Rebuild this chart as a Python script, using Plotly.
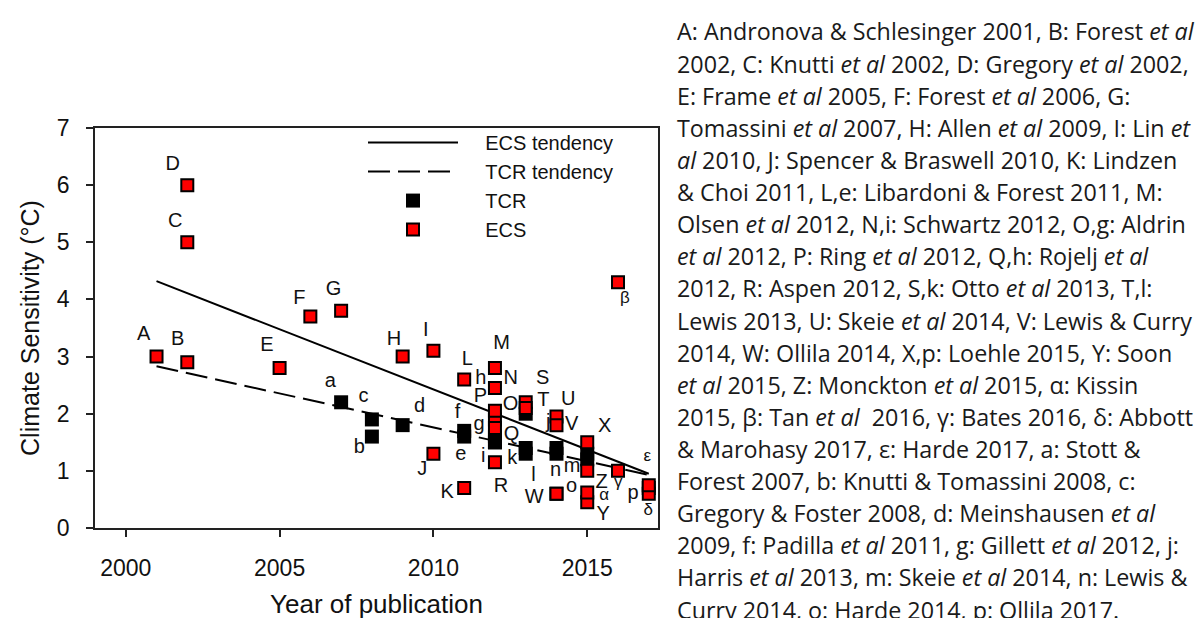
import plotly.graph_objects as go

# ---------------- data ----------------
ecs_labels = ["A", "B", "C", "D", "E", "F", "G", "H", "I", "J", "K", "L", "M", "N", "O", "P", "Q", "R",
              "S", "T", "U", "V", "W", "X", "Y", "Z", "α", "β", "γ", "δ", "ε"]
ecs_years = [2001, 2002, 2002, 2002, 2005, 2006, 2007, 2009, 2010, 2010, 2011, 2011, 2012, 2012, 2012, 2012, 2012, 2012,
             2013, 2013, 2014, 2014, 2014, 2015, 2015, 2015, 2015, 2016, 2016, 2017, 2017]
ecs_values = [3.0, 2.9, 5.0, 6.0, 2.8, 3.7, 3.8, 3.0, 3.1, 1.3, 0.7, 2.6, 2.8, 2.45, 1.9, 2.05, 1.75, 1.15,
              2.2, 2.1, 1.95, 1.8, 0.6, 1.5, 0.45, 1.0, 0.62, 4.3, 1.0, 0.6, 0.75]

tcr_labels = ["a", "b", "c", "d", "e", "f", "g", "h", "i", "j", "k", "l", "m", "n", "o", "p", "p2", "p3"]
tcr_years = [2007, 2008, 2008, 2009, 2011, 2011, 2012, 2012, 2012, 2013, 2013, 2013, 2014, 2014, 2014, 2015, 2015, 2017]
tcr_values = [2.2, 1.6, 1.9, 1.8, 1.6, 1.7, 1.6, 1.5, 1.5, 2.0, 1.4, 1.3, 1.4, 1.3, 0.6, 1.3, 1.2, 0.7]

ecs_trend_years = [2001, 2017]
ecs_trend_values = [4.32, 0.95]
tcr_trend_years = [2001, 2017]
tcr_trend_values = [2.83, 0.93]

# point-label text and where each sits (data coordinates)
label_text = ["A", "B", "C", "D", "E", "F", "G", "a", "H", "I", "c", "b", "d", "J", "L", "h", "M", "N",
              "P", "O", "f", "g", "Q", "e", "i", "k", "K", "R", "S", "T", "U", "j", "V", "l", "n", "m",
              "W", "o", "X", "Z", "α", "Y", "γ", "p", "ε", "δ", "β"]
label_x = [2000.58, 2001.69, 2001.61, 2001.53, 2004.59, 2005.64, 2006.75, 2006.65, 2008.72, 2009.75,
           2007.73, 2007.59, 2009.55, 2009.64, 2011.10, 2011.54, 2012.22, 2012.51, 2011.53, 2012.51,
           2010.78, 2011.48, 2012.54, 2010.89, 2011.62, 2012.56, 2010.45, 2012.20, 2013.55, 2013.57,
           2014.38, 2013.73, 2014.49, 2013.25, 2013.97, 2014.51, 2013.28, 2014.49, 2015.57, 2015.47,
           2015.55, 2015.52, 2016.01, 2016.49, 2016.95, 2016.98, 2016.22]
label_y = [3.38, 3.29, 5.36, 6.36, 3.19, 4.01, 4.16, 2.56, 3.29, 3.45, 2.29, 1.40, 2.12, 1.01, 2.94,
           2.61, 3.22, 2.60, 2.30, 2.16, 2.01, 1.80, 1.63, 1.27, 1.25, 1.20, 0.61, 0.71, 2.60, 2.23,
           2.24, 1.83, 1.80, 0.91, 0.99, 1.07, 0.52, 0.71, 1.77, 0.79, 0.56, 0.22, 0.79, 0.59, 1.25,
           0.30, 4.01]

x_ticks = [2000, 2005, 2010, 2015]
y_ticks = [0, 1, 2, 3, 4, 5, 6, 7]

ref_lines = [
    "A: Andronova &amp; Schlesinger 2001, B: Forest <i>et al</i>",
    "2002, C: Knutti <i>et al</i> 2002, D: Gregory <i>et al</i> 2002,",
    "E: Frame <i>et al</i> 2005, F: Forest <i>et al</i> 2006, G:",
    "Tomassini <i>et al</i> 2007, H: Allen <i>et al</i> 2009, I: Lin <i>et</i>",
    "<i>al</i> 2010, J: Spencer &amp; Braswell 2010, K: Lindzen",
    "&amp; Choi 2011, L,e: Libardoni &amp; Forest 2011, M:",
    "Olsen <i>et al</i> 2012, N,i: Schwartz 2012, O,g: Aldrin",
    "<i>et al</i> 2012, P: Ring <i>et al</i> 2012, Q,h: Rojelj <i>et al</i>",
    "2012, R: Aspen 2012, S,k: Otto <i>et al</i> 2013, T,l:",
    "Lewis 2013, U: Skeie <i>et al</i> 2014, V: Lewis &amp; Curry",
    "2014, W: Ollila 2014, X,p: Loehle 2015, Y: Soon",
    "<i>et al</i> 2015, Z: Monckton <i>et al</i> 2015, α: Kissin",
    "2015, β: Tan <i>et al</i>  2016, γ: Bates 2016, δ: Abbott",
    "&amp; Marohasy 2017, ε: Harde 2017, a: Stott &amp;",
    "Forest 2007, b: Knutti &amp; Tomassini 2008, c:",
    "Gregory &amp; Foster 2008, d: Meinshausen <i>et al</i>",
    "2009, f: Padilla <i>et al</i> 2011, g: Gillett <i>et al</i> 2012, j:",
    "Harris <i>et al</i> 2013, m: Skeie <i>et al</i> 2014, n: Lewis &amp;",
    "Curry 2014, o: Harde 2014, p: Ollila 2017.",
]

# ---------------- figure ----------------
W, H = 1203, 618
ML, MR, MT, MB = 87, 553, 120, 92
PW, PH = W - ML - MR, H - MT - MB
PAD = "\u00a0\u00a0\u00a0\u00a0"

fig = go.Figure()
fig.add_trace(go.Scatter(x=ecs_trend_years, y=ecs_trend_values, mode="lines", name=PAD + "ECS tendency",
                         line=dict(color="black", width=2)))
fig.add_trace(go.Scatter(x=tcr_trend_years, y=tcr_trend_values, mode="lines", name=PAD + "TCR tendency",
                         line=dict(color="black", width=2, dash="22px,8px")))
fig.add_trace(go.Scatter(x=tcr_years, y=tcr_values, mode="markers", name=PAD + "TCR",
                         marker=dict(symbol="square", size=14, color="black", line=dict(width=0))))
fig.add_trace(go.Scatter(x=ecs_years, y=ecs_values, mode="markers", name=PAD + "ECS",
                         marker=dict(symbol="square", size=12, color="#ff0000",
                                     line=dict(color="black", width=2))))

greek = set("αβγδε")
fig.add_trace(go.Scatter(x=label_x, y=label_y, mode="text", text=label_text, showlegend=False,
                         textposition="middle center",
                         textfont=dict(family="Liberation Sans, Arial, sans-serif",
                                       size=[17 if t in greek else 20 for t in label_text],
                                       color="#111111")))

axis_font = dict(family="Liberation Sans, Arial, sans-serif", size=23, color="#111111")
fig.update_xaxes(range=[1999.0, 2017.3], tickvals=x_ticks, ticks="outside", ticklen=7, tickwidth=1.5,
                 tickcolor="#222", showline=True, linecolor="#222", linewidth=1.5, mirror=True,
                 showgrid=False, zeroline=False, tickfont=axis_font, ticklabelstandoff=12,
                 title=dict(text="Year of publication", standoff=14,
                            font=dict(family="Liberation Sans, Arial, sans-serif", size=26, color="#111111")))
fig.update_yaxes(range=[0, 7], tickvals=y_ticks, ticks="outside", ticklen=7, tickwidth=1.5,
                 tickcolor="#222", showline=True, linecolor="#222", linewidth=1.5, mirror=True,
                 showgrid=False, zeroline=False, tickfont=axis_font, ticklabelstandoff=12,
                 title=dict(text="Climate Sensitivity (°C)", standoff=10,
                            font=dict(family="Liberation Sans, Arial, sans-serif", size=25, color="#111111")))

for i, line in enumerate(ref_lines):
    py = 22 + 32.6 * i
    fig.add_annotation(xref="paper", yref="paper", x=(667 - ML) / PW, y=(H - MB - py) / PH,
                       xanchor="left", yanchor="middle", text=line, showarrow=False,
                       font=dict(family="Open Sans, sans-serif", size=23.3, color="#1a1a1a"))

fig.update_layout(
    width=W, height=H, margin=dict(l=ML, r=MR, t=MT, b=MB),
    paper_bgcolor="white", plot_bgcolor="white",
    legend=dict(x=(355 - ML) / PW, y=(H - MB - 115) / PH, xanchor="left", yanchor="top",
                bgcolor="rgba(0,0,0,0)", itemwidth=90, tracegroupgap=0,
                font=dict(family="Liberation Sans, Arial, sans-serif", size=20, color="#111111")),
)

fig.write_html("out.html")
